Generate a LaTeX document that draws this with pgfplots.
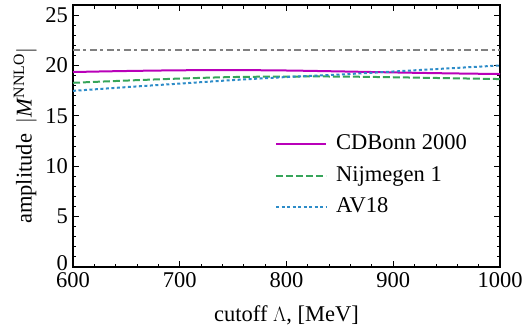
\documentclass[border=0pt]{standalone}
\usepackage{fontspec}
\setmainfont{Liberation Serif}
\usepackage{pgfplots}
\pgfplotsset{compat=1.18}
\definecolor{cmag}{RGB}{185,0,185}
\definecolor{cgreen}{RGB}{55,165,90}
\definecolor{cblue}{RGB}{45,140,200}
\definecolor{cgray}{RGB}{128,128,128}
\newcommand\myfnt{\rmfamily\fontsize{22.5bp}{27bp}\selectfont}
\begin{document}
\myfnt
\begin{tikzpicture}[font=\myfnt]
\begin{axis}[
  scale only axis,
  width=427bp, height=262bp,
  xmin=600, xmax=1000, ymin=0, ymax=26,
  xtick={600,700,800,900,1000},
  ytick={0,5,10,15,20,25},
  yticklabels={{\raisebox{7bp}{0}},5,10,15,20,25},
  minor x tick num=4,
  minor y tick num=4,
  tick align=inside,
  major tick length=6bp,
  minor tick length=3.5bp,
  every tick/.style={black, line width=0.9bp},
  axis line style={line width=1.6bp},
  /pgf/number format/assume math mode=true,
  /pgf/number format/1000 sep={},
  tick label style={font=\myfnt},
  label style={font=\myfnt},
  xticklabel style={yshift=2.5bp},
  yticklabel style={xshift=2.5bp},
  xlabel={cutoff $\Lambda$, [MeV]},
  ylabel={amplitude \kern0.2em$|$\textit{M}\textsuperscript{NNLO}$|$},
  xlabel style={at={(axis description cs:0.5,0)}, anchor=base, yshift=-54bp},
  ylabel style={at={(axis description cs:-0.112,0.5)}, anchor=center},
  legend style={draw=none, fill=none, font=\myfnt, at={(axis description cs:0.473,0.53)}, anchor=north west, inner sep=0pt,
    nodes={inner sep=0bp, text height=0.95em, text depth=0.45em, anchor=west, font=\myfnt}},
  legend cell align=left,
  legend image code/.code={\draw[#1] (0bp,0bp) -- (50bp,0bp); \path (59bp,0bp);},
]
\addplot[cmag, line width=2bp, smooth] coordinates {
(600,19.35) (650,19.45) (700,19.52) (750,19.54) (800,19.5) (850,19.41) (900,19.31) (950,19.22) (1000,19.15)};
\addlegendentry{CDBonn 2000}
\addplot[cgreen, line width=2bp, dash pattern=on 7bp off 3bp, smooth] coordinates {
(600,18.28) (650,18.5) (700,18.7) (750,18.85) (800,18.9) (850,18.9) (900,18.83) (950,18.74) (1000,18.65)};
\addlegendentry{Nijmegen 1}
\addplot[cblue, line width=2bp, dash pattern=on 3bp off 2.5bp, smooth] coordinates {
(600,17.48) (650,17.85) (700,18.2) (750,18.55) (800,18.85) (850,19.1) (900,19.4) (950,19.7) (1000,20.0)};
\addlegendentry{AV18}
\addplot[cgray, line width=2bp, dash pattern=on 7bp off 3.5bp on 3bp off 3.5bp, forget plot] coordinates {(600,21.5) (1000,21.5)};
\end{axis}
\pgfresetboundingbox
\useasboundingbox (-73bp,-64bp) rectangle (450bp,267bp);
\end{tikzpicture}
\end{document}
